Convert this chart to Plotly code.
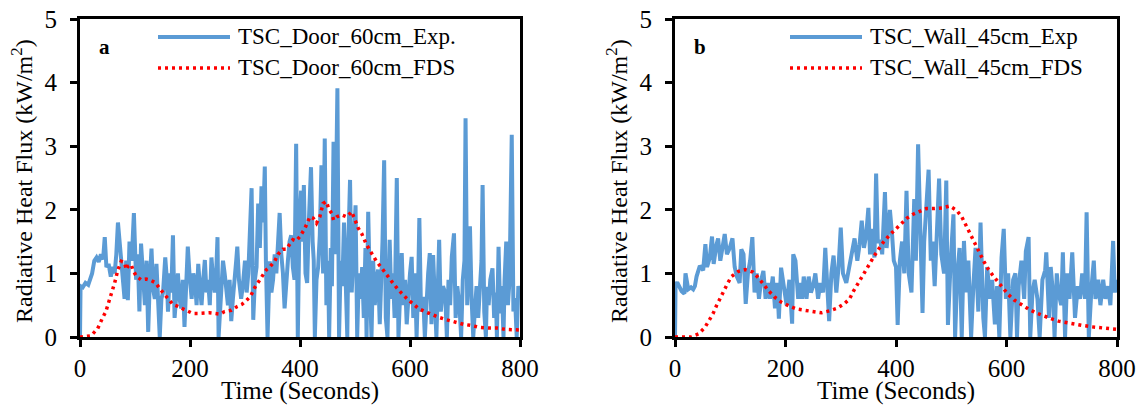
import plotly.graph_objects as go

# ---------------- data ----------------
door_exp_t = [0,1,5,10,15,18,22,26,30,34,38,42,45,48,52,56,60,63,66,69,72,75,78,81,84,87,90,94,98,102,
              105,108,111,115,118,121,124,127,130,133,136,139,142,145,148,151,155,158,160,163,166,169,172,175,178,181,184,187,190,193,
              196,199,203,206,209,212,215,218,221,224,227,230,233,236,239,242,245,248,250,252,255,257,260,263,266,269,272,275,278,281,
              284,286,289,293,296,300,303,306,309,312,315,318,321,324,327,330,333,336,338,341,345,348,351,354,357,360,363,366,369,372,
              375,378,381,384,387,390,393,396,399,402,405,407,410,413,416,420,423,425,427,430,433,436,439,442,445,448,451,453,456,458,
              461,464,468,471,474,477,480,483,486,488,491,494,497,501,504,507,510,513,516,519,521,524,527,530,533,536,539,542,545,548,
              550,553,556,559,563,566,569,572,576,579,582,585,588,591,594,597,600,603,606,609,612,615,617,620,624,627,630,633,636,639,
              642,645,648,651,653,656,660,664,667,670,673,676,680,683,686,690,693,696,699,701,704,706,709,712,715,718,721,724,727,730,
              732,735,738,740,743,746,750,753,756,758,761,764,767,770,772,775,778,781,785,788,791,794,797,800]
door_exp_v = [0,0.8,0.78,0.85,0.82,0.92,1.0,1.2,1.25,1.18,1.3,1.22,1.57,1.1,1.15,0.95,1.1,1.0,1.3,1.8,1.5,1.2,1.05,0.6,1.2,0.58,1.5,1.2,1.95,0.9,
              1.3,0.4,1.47,0.8,0.5,1.2,0.08,0.9,1.39,0.75,0.6,1.15,0.5,0.0,0.6,0.7,1.25,0.9,0.4,1.0,0.7,1.6,0.3,0.8,1.0,0.6,0.45,0.9,0.16,0.8,
              1.42,1.0,0.6,1.0,0.9,0.5,1.15,0.8,0.5,0.9,1.21,0.7,0.9,0.5,1.25,0.9,0.7,1.1,1.57,0.0,0.5,0.7,1.2,1.0,0.7,0.5,0.9,0.25,0.6,1.0,
              1.2,1.42,0.9,0.6,0.8,1.2,0.7,1.0,1.6,2.34,0.27,0.9,1.1,2.1,1.4,2.37,1.8,2.68,1.2,0.0,1.19,0.7,0.9,1.3,1.0,1.4,1.95,1.3,1.0,0.45,
              0.9,1.2,1.5,1.6,1.1,0.9,3.04,0.0,1.8,2.3,1.5,2.39,1.0,0.85,1.8,2.67,1.5,1.2,0.0,0.9,1.1,1.6,2.7,1.0,3.12,0.5,1.2,0.0,1.4,0.8,
              3.07,1.3,3.91,0.0,1.2,0.8,1.8,0.9,0.0,1.5,2.47,0.7,1.3,2.07,0.0,1.0,0.6,1.1,0.3,1.4,0.0,1.97,0.8,0.0,1.2,0.5,0.9,1.06,0.2,0.8,
              1.5,2.78,0.3,0.0,1.53,0.6,1.0,0.3,2.5,0.0,0.8,1.32,0.5,0.9,0.2,0.7,1.0,1.26,0.3,1.0,0.0,0.9,1.87,0.4,0.63,0.0,0.7,1.0,1.32,0.2,
              1.29,0.6,0.0,0.9,1.53,0.4,0.8,0.69,0.0,0.9,0.5,1.26,1.63,0.3,0.8,0.48,0.0,0.9,1.2,3.44,0.5,1.0,1.74,0.6,0.0,0.43,0.8,0.3,0.84,1.2,
              2.39,0.4,0.0,0.79,0.5,0.9,1.08,0.3,0.7,0.0,1.42,0.37,0.8,0.0,0.9,1.5,0.5,0.9,3.18,0.4,0.61,0.0,0.8,0.63]

door_fds_t = [0,2,20,32,41,47,53,60,63,69,75,81,84,87,93,96,102,111,120,129,138,144,152,160,169,178,187,196,205,214,
              226,235,245,254,263,275,286,294,302,310,318,324,330,339,345,354,360,369,375,381,387,393,400,409,418,424,430,436,442,448,
              452,458,461,467,476,485,494,500,506,512,521,530,539,549,558,567,579,588,597,606,615,627,639,652,667,682,697,712,727,742,
              758,773,788,800]
door_fds_v = [0,0,0.02,0.13,0.3,0.4,0.57,0.75,0.85,1.06,1.19,1.17,1.06,1.11,1.14,1.06,0.96,0.9,0.91,0.89,0.85,0.77,0.68,0.59,0.51,0.48,0.44,0.4,0.37,0.37,
              0.38,0.38,0.37,0.36,0.4,0.42,0.48,0.51,0.57,0.64,0.78,0.86,0.95,1.06,1.1,1.19,1.3,1.38,1.38,1.46,1.53,1.51,1.58,1.71,1.89,1.87,1.79,1.89,2.1,2.13,
              2.02,1.94,1.84,1.89,1.92,1.89,1.97,1.84,1.71,1.63,1.45,1.32,1.19,1.08,0.97,0.87,0.74,0.66,0.58,0.52,0.45,0.4,0.35,0.31,0.27,0.23,0.2,0.18,0.15,0.14,
              0.14,0.12,0.11,0.11]

wall_exp_t = [0,1,4,8,12,17,19,24,29,33,36,39,45,51,55,58,63,67,70,75,78,82,85,90,94,99,104,108,112,117,
              120,124,128,132,136,140,144,148,152,156,160,164,168,172,177,181,185,188,192,197,202,207,212,214,218,223,226,230,233,238,
              242,246,250,254,259,263,268,272,276,279,283,287,292,296,300,304,310,315,320,325,330,334,338,342,346,350,353,357,361,364,
              367,372,375,380,383,386,389,393,396,400,403,407,411,415,419,423,428,433,436,440,444,448,451,454,459,463,466,470,475,478,
              482,487,491,494,499,504,507,511,515,519,523,527,531,536,540,544,549,553,558,561,565,570,574,579,583,587,591,595,599,603,
              607,612,616,619,622,627,632,635,640,643,647,651,656,660,665,670,672,677,680,684,687,691,694,699,702,706,710,714,719,724,
              729,733,737,742,745,749,754,758,761,766,770,775,779,784,788,793,796,800]
wall_exp_v = [0,0.82,0.86,0.8,0.72,0.68,1.0,0.75,0.78,0.75,0.8,0.95,1.12,1.05,1.46,1.1,1.25,1.58,1.15,1.45,1.55,1.2,1.4,1.62,1.3,1.4,1.55,1.1,0.95,0.85,
              1.38,1.3,0.52,1.0,1.2,1.57,0.7,1.0,0.6,0.9,1.04,0.6,0.85,0.6,0.95,0.45,0.85,0.29,1.09,0.75,0.5,0.9,0.21,1.3,1.2,0.6,0.85,0.6,0.95,0.6,
              0.95,0.7,0.8,1.0,0.6,0.85,0.7,1.4,0.65,0.25,1.0,1.28,0.7,1.1,1.72,1.0,0.85,1.1,1.3,1.55,1.2,1.45,1.83,1.4,1.6,2.03,1.3,1.7,1.25,2.57,
              1.5,1.5,1.3,2.28,1.4,1.8,2.0,1.6,1.2,1.1,0.19,1.2,1.5,1.0,2.3,1.0,0.7,2.17,1.2,3.03,1.4,0.38,1.5,2.0,2.63,1.2,1.5,0.8,2.1,2.49,
              1.3,1.0,2.46,0.19,1.2,1.93,0.0,1.0,1.4,0.0,1.51,0.7,1.2,0.0,0.8,1.4,0.4,1.8,0.3,0.0,1.1,0.6,0.9,0.2,0.8,0.0,1.25,1.7,0.6,1.0,
              0.0,0.9,1.0,0.0,0.8,1.2,0.6,1.35,1.57,0.0,0.7,0.9,0.6,0.0,0.9,1.05,1.33,0.3,1.1,0.7,0.0,1.0,0.7,0.5,1.33,0.0,1.0,0.6,1.33,0.3,
              0.8,0.6,1.0,0.6,1.96,0.0,0.8,1.2,0.6,0.9,0.5,0.9,0.6,0.8,0.5,1.51,0.7,0.9]

wall_fds_t = [0,1,14,29,43,54,61,69,75,81,88,95,102,114,127,141,151,160,170,180,192,206,220,235,250,265,279,293,306,316,
              323,331,338,346,353,361,370,378,388,398,409,420,431,443,455,469,484,497,510,519,525,532,539,545,552,559,566,575,584,593,
              603,614,626,640,653,666,680,694,710,724,739,754,769,784,800]
wall_fds_v = [0,0,0,0,0.05,0.15,0.25,0.37,0.49,0.6,0.72,0.84,0.95,1.03,1.06,1.02,0.93,0.82,0.72,0.63,0.55,0.49,0.44,0.42,0.4,0.38,0.41,0.45,0.52,0.6,
              0.72,0.84,0.96,1.07,1.18,1.28,1.4,1.5,1.6,1.69,1.78,1.87,1.93,1.98,2.02,2.02,2.03,2.06,1.99,1.89,1.78,1.66,1.54,1.42,1.31,1.19,1.08,0.97,0.87,0.77,
              0.67,0.58,0.51,0.44,0.38,0.33,0.29,0.25,0.23,0.21,0.18,0.16,0.15,0.14,0.12]

x_ticks = [0, 200, 400, 600, 800]
y_ticks = [0, 1, 2, 3, 4, 5]
legend_names = [["TSC_Door_60cm_Exp.", "TSC_Door_60cm_FDS"], ["TSC_Wall_45cm_Exp", "TSC_Wall_45cm_FDS"]]
panel_labels = ["a", "b"]

# ---------------- styling ----------------
W, H = 1144, 405
FONT = "Liberation Serif"
BLUE = "#5B9BD5"
RED = "#FF0000"
DOT = "3px,4px"

fig = go.Figure()
fig.add_trace(go.Scatter(x=door_exp_t, y=door_exp_v, mode="lines", line=dict(color=BLUE, width=4),
                         xaxis="x", yaxis="y", showlegend=False))
fig.add_trace(go.Scatter(x=door_fds_t, y=door_fds_v, mode="lines", line=dict(color=RED, width=3.5, dash=DOT),
                         xaxis="x", yaxis="y", showlegend=False))
fig.add_trace(go.Scatter(x=wall_exp_t, y=wall_exp_v, mode="lines", line=dict(color=BLUE, width=4),
                         xaxis="x2", yaxis="y2", showlegend=False))
fig.add_trace(go.Scatter(x=wall_fds_t, y=wall_fds_v, mode="lines", line=dict(color=RED, width=3.5, dash=DOT),
                         xaxis="x2", yaxis="y2", showlegend=False))

# pixel geometry
L1, R1 = 80, 520
L2, R2 = 675, 1117
TOP, BOT = 19, 337
def px(x): return x / W
def py(y): return 1 - y / H

ydom = [py(BOT), py(TOP)]
axis_common = dict(showline=True, linecolor="black", linewidth=3, mirror=True, showgrid=False, zeroline=False,
                   ticks="outside", ticklen=7, tickwidth=3, tickcolor="black", automargin=False)
xfont = dict(family=FONT, size=25, color="black")
yfont = dict(family=FONT, size=25, color="black")

fig.update_layout(
    width=W, height=H, margin=dict(l=0, r=0, t=0, b=0),
    paper_bgcolor="white", plot_bgcolor="white",
    xaxis=dict(domain=[px(L1), px(R1)], range=[0, 800], tickvals=x_ticks, anchor="y", ticklabelstandoff=0,
               tickfont=xfont, **axis_common),
    yaxis=dict(domain=ydom, range=[0, 5], tickvals=y_ticks, anchor="x", ticklabelstandoff=8,
               tickfont=yfont, **axis_common),
    xaxis2=dict(domain=[px(L2), px(R2)], range=[0, 800], tickvals=x_ticks, anchor="y2", ticklabelstandoff=0,
                tickfont=xfont, **axis_common),
    yaxis2=dict(domain=ydom, range=[0, 5], tickvals=y_ticks, anchor="x2", ticklabelstandoff=8,
                tickfont=yfont, **axis_common),
)

annotations = []
shapes = []
for i, (L, R) in enumerate([(L1, R1), (L2, R2)]):
    cx = (L + R) / 2
    # x-axis title
    annotations.append(dict(x=px(cx), y=py(391), xref="paper", yref="paper", text="Time (Seconds)",
                            showarrow=False, font=dict(family=FONT, size=25, color="black"),
                            xanchor="center", yanchor="middle"))
    # y-axis title
    annotations.append(dict(x=px(L - 58), y=py((TOP + BOT) / 2 + 3), xref="paper", yref="paper",
                            text="Radiative Heat Flux (kW/m<sup>2</sup>)", textangle=-90,
                            showarrow=False, font=dict(family=FONT, size=24, color="black"),
                            xanchor="center", yanchor="middle"))
    # panel label
    annotations.append(dict(x=px(L + 17), y=py(47), xref="paper", yref="paper", text="<b>%s</b>" % panel_labels[i],
                            showarrow=False, font=dict(family=FONT, size=21, color="black"),
                            xanchor="left", yanchor="middle"))
    # manual legend
    lx0 = L + 78 if i == 0 else L + 115
    lx1 = lx0 + 72
    for j, (yy, col, dash) in enumerate([(37, BLUE, "solid"), (68, RED, DOT)]):
        shapes.append(dict(type="line", xref="paper", yref="paper", x0=px(lx0), x1=px(lx1), y0=py(yy), y1=py(yy),
                           line=dict(color=col, width=4 if j == 0 else 3.5, dash=dash)))
        annotations.append(dict(x=px(lx1 + 6), y=py(yy), xref="paper", yref="paper", text=legend_names[i][j],
                                showarrow=False, font=dict(family=FONT, size=23, color="black"),
                                xanchor="left", yanchor="middle"))

fig.update_layout(annotations=annotations, shapes=shapes)
fig.write_html("out.html")
